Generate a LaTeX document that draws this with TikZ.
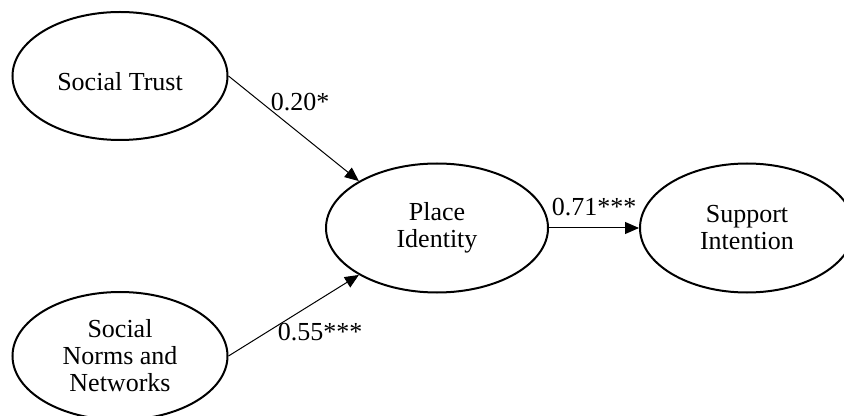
\documentclass[tikz,border=0pt]{standalone}
\usepackage{fontspec}
\setmainfont{Liberation Serif}
\usetikzlibrary{shapes.geometric,arrows.meta}
\tikzset{
  latent/.style={draw, ellipse, line width=1pt, inner sep=0pt, align=center,
    font=\fontsize{13}{13.5}\selectfont},
  arr/.style={-{Triangle[length=7pt,width=6pt]}, line width=0.5pt},
  coef/.style={font=\fontsize{13}{14}\selectfont, inner sep=0pt}
}
\begin{document}
\begin{tikzpicture}[x=0.5pt,y=-0.5pt]
\useasboundingbox (0,0) rectangle (844,416);
\node[latent, minimum width=107.5pt, minimum height=64pt, text height=15pt, text depth=0pt] (st) at (120,76) {Social Trust};
\node[latent, minimum width=107.5pt, minimum height=64pt] (sn) at (120,356) {Social\\Norms and\\Networks};
\node[latent, minimum width=111pt, minimum height=64.5pt] (pi) at (437,228) {Place\\Identity};
\node[latent, minimum width=107pt, minimum height=64.5pt] (si) at (747,228) {Support\\Intention};
\draw[arr] (st.east) -- (pi.149);
\draw[arr] (sn.east) -- (pi.211);
\draw[arr] (pi.east) -- (si.west);
\node[coef] (c1) at (300,102) {0.20*};
\node[coef] (c2) at (320,332) {0.55***};
\node[coef] (c3) at (594,207) {0.71***};
\end{tikzpicture}
\end{document}
